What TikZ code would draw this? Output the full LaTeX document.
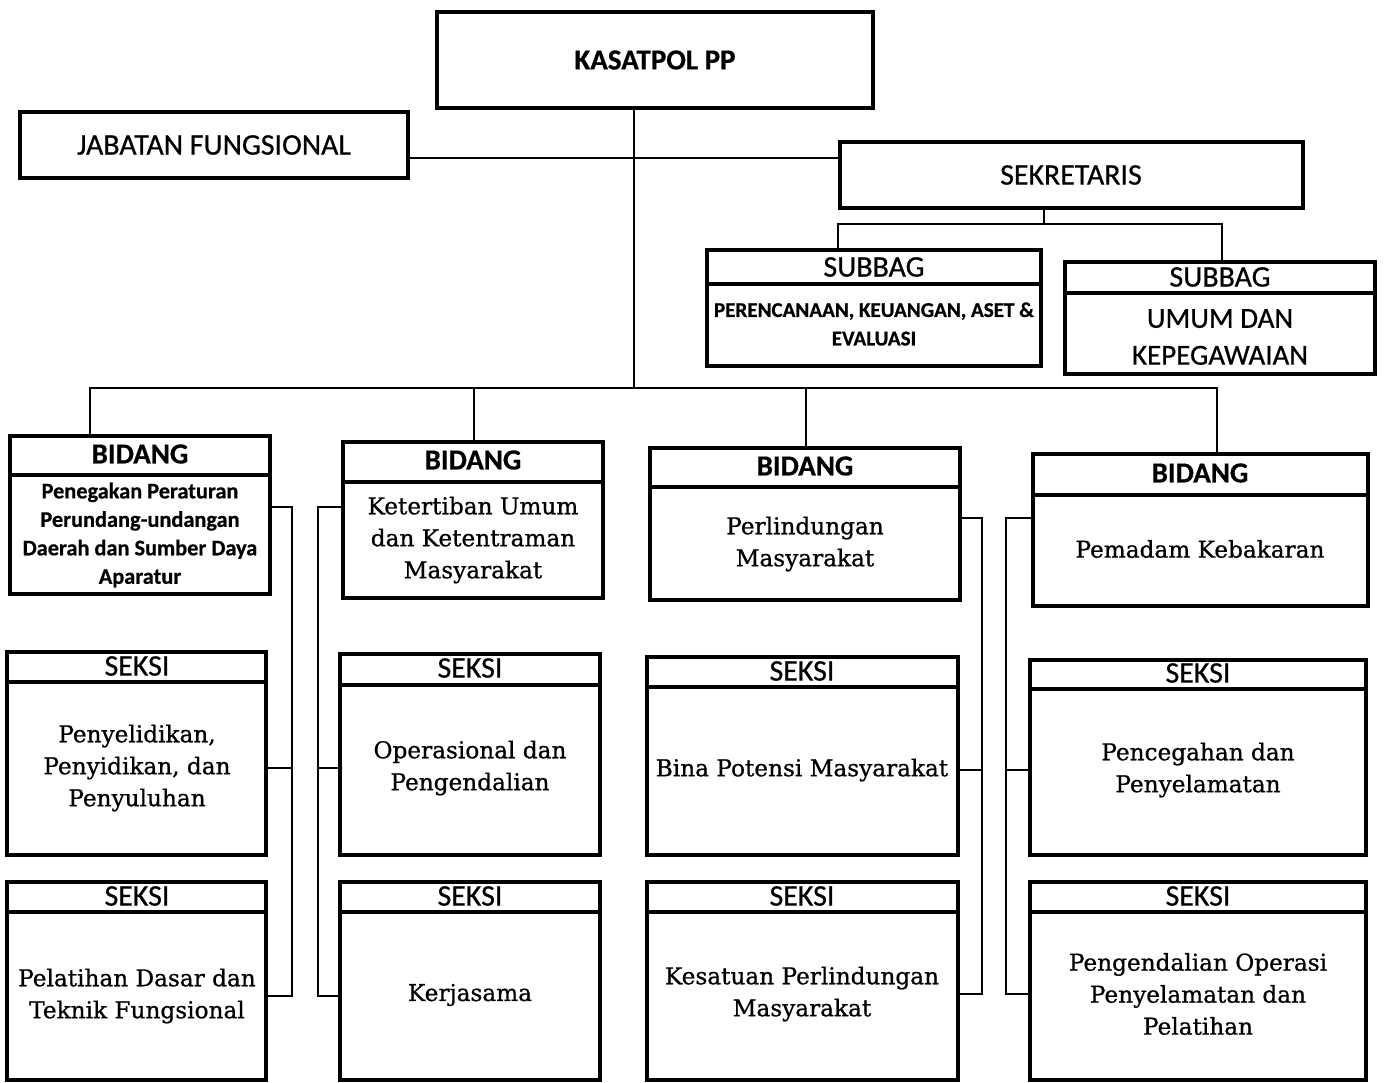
\documentclass[tikz,border=0pt]{standalone}
\usepackage{fontspec}
\setmainfont[FakeBold=0.8]{DejaVu Serif}
\newfontfamily\calfont[FakeBold=0.6]{Carlito}
\usetikzlibrary{fit}
\tikzset{
  box/.style={draw, line width=2.6pt, inner sep=0pt},
  sepline/.style={line width=2.6pt},
  conn/.style={line width=1.1pt, line join=miter},
  hdr/.style={font=\calfont\fontsize{17}{18}\selectfont, inner sep=0pt},
  hdrb/.style={font=\calfont\bfseries\fontsize{16.5}{18}\selectfont, inner sep=0pt},
  cal/.style={font=\calfont\bfseries\fontsize{12}{16.2}\selectfont, align=center, inner sep=0pt},
  calp/.style={font=\calfont\bfseries\fontsize{12.7}{16.2}\selectfont, align=center, inner sep=0pt},
  calb/.style={font=\calfont\fontsize{16.5}{21}\selectfont, align=center, inner sep=0pt},
  body/.style={font=\fontsize{13.2}{18.2}\selectfont, align=center, inner sep=0pt},
}
\begin{document}
\begin{tikzpicture}[x=0.02cm,y=-0.02cm]
\useasboundingbox (0,0) rectangle (1386,1082);

% ---------- top level ----------
\node[box, fit={(437,12) (873,108)}] (kas) {};
\node[hdrb] (kast) at (655,60) {KASATPOL PP};

\node[box, fit={(20,112) (408,178)}] (jab) {};
\node[hdr] (jabt) at (214,145) {JABATAN FUNGSIONAL};

\node[box, fit={(840,142) (1303,208)}] (sek) {};
\node[hdr] (sekt) at (1071,175) {SEKRETARIS};

% ---------- subbag ----------
\node[box, fit={(707,250) (1041,366)}] (sb1) {};
\draw[sepline] (707,284) -- (1041,284);
\node[hdr] (sb1h) at (874,267) {SUBBAG};
\node[cal] (sb1t) at (874,324) {PERENCANAAN, KEUANGAN, ASET \&\\EVALUASI};

\node[box, fit={(1065,262) (1375,374)}] (sb2) {};
\draw[sepline] (1065,293) -- (1375,293);
\node[hdr] (sb2h) at (1220,277) {SUBBAG};
\node[calb] (sb2t) at (1220,337) {UMUM DAN\\KEPEGAWAIAN};

% ---------- bidang ----------
\node[box, fit={(10,436) (270,594)}] (b1) {};
\draw[sepline] (10,475) -- (270,475);
\node[hdrb] (b1h) at (140,454) {BIDANG};
\node[calp] (b1t) at (140,535) {Penegakan Peraturan\\Perundang-undangan\\Daerah dan Sumber Daya\\Aparatur};

\node[box, fit={(343,442) (603,598)}] (b2) {};
\draw[sepline] (343,482) -- (603,482);
\node[hdrb] (b2h) at (473,460) {BIDANG};
\node[body] (b2t) at (473,540) {Ketertiban Umum\\dan Ketentraman\\Masyarakat};

\node[box, fit={(650,448) (960,600)}] (b3) {};
\draw[sepline] (650,487) -- (960,487);
\node[hdrb] (b3h) at (805,466) {BIDANG};
\node[body] (b3t) at (805,544) {Perlindungan\\Masyarakat};

\node[box, fit={(1033,454) (1368,606)}] (b4) {};
\draw[sepline] (1033,495) -- (1368,495);
\node[hdrb] (b4h) at (1200,473) {BIDANG};
\node[body] (b4t) at (1200,549) {Pemadam Kebakaran};

% ---------- seksi ----------
\node[box, fit={(7,652) (266,855)}] (s11) {};
\draw[sepline] (7,682) -- (266,682);
\node[hdr] (s11h) at (137,666) {SEKSI};
\node[body] (s11t) at (137,768) {Penyelidikan,\\Penyidikan, dan\\Penyuluhan};

\node[box, fit={(7,882) (266,1080)}] (s12) {};
\draw[sepline] (7,912) -- (266,912);
\node[hdr] (s12h) at (137,896) {SEKSI};
\node[body] (s12t) at (137,996) {Pelatihan Dasar dan\\Teknik Fungsional};

\node[box, fit={(340,654) (600,855)}] (s21) {};
\draw[sepline] (340,685) -- (600,685);
\node[hdr] (s21h) at (470,668) {SEKSI};
\node[body] (s21t) at (470,768) {Operasional dan\\Pengendalian};

\node[box, fit={(340,882) (600,1080)}] (s22) {};
\draw[sepline] (340,912) -- (600,912);
\node[hdr] (s22h) at (470,896) {SEKSI};
\node[body] (s22t) at (470,995) {Kerjasama};

\node[box, fit={(647,657) (958,855)}] (s31) {};
\draw[sepline] (647,687) -- (958,687);
\node[hdr] (s31h) at (802,671) {SEKSI};
\node[body] (s31t) at (802,770) {Bina Potensi Masyarakat};

\node[box, fit={(647,882) (958,1080)}] (s32) {};
\draw[sepline] (647,912) -- (958,912);
\node[hdr] (s32h) at (802,896) {SEKSI};
\node[body] (s32t) at (802,994) {Kesatuan Perlindungan\\Masyarakat};

\node[box, fit={(1030,660) (1366,855)}] (s41) {};
\draw[sepline] (1030,689) -- (1366,689);
\node[hdr] (s41h) at (1198,673) {SEKSI};
\node[body] (s41t) at (1198,770) {Pencegahan dan\\Penyelamatan};

\node[box, fit={(1030,882) (1366,1080)}] (s42) {};
\draw[sepline] (1030,912) -- (1366,912);
\node[hdr] (s42h) at (1198,896) {SEKSI};
\node[body] (s42t) at (1198,994) {Pengendalian Operasi\\Penyelamatan dan\\Pelatihan};

% ---------- connectors ----------
\coordinate (kv) at (634,388);
\coordinate (d1) at (90,388);
\coordinate (d2) at (474,388);
\coordinate (d3) at (806,388);
\coordinate (d4) at (1217,388);
\draw[conn] (kas.south -| kv) -- (kv);
\draw[conn] (d1 |- b1.north) -- (d1) -- (d4) -- (d4 |- b4.north);
\draw[conn] (d2) -- (d2 |- b2.north);
\draw[conn] (d3) -- (d3 |- b3.north);

\coordinate (jl) at (0,158);
\draw[conn] (jab.east |- jl) -- (sek.west |- jl);

\coordinate (sv) at (1044,224);
\coordinate (sl) at (838,224);
\coordinate (sr) at (1222,224);
\draw[conn] (sek.south -| sv) -- (sv);
\draw[conn] (sl |- sb1.north) -- (sl) -- (sr) -- (sr |- sb2.north);

% column 1 (right side)
\coordinate (c1a) at (292,507);
\coordinate (c1b) at (292,768);
\coordinate (c1c) at (292,996);
\draw[conn] (c1a -| b1.east) -- (c1a) -- (c1c) -- (c1c -| s12.east);
\draw[conn] (c1b) -- (c1b -| s11.east);

% column 2 (left side)
\coordinate (c2a) at (318,507);
\coordinate (c2b) at (318,768);
\coordinate (c2c) at (318,996);
\draw[conn] (c2a -| b2.west) -- (c2a) -- (c2c) -- (c2c -| s22.west);
\draw[conn] (c2b) -- (c2b -| s21.west);

% column 3 (right side)
\coordinate (c3a) at (982,518);
\coordinate (c3b) at (982,770);
\coordinate (c3c) at (982,994);
\draw[conn] (c3a -| b3.east) -- (c3a) -- (c3c) -- (c3c -| s32.east);
\draw[conn] (c3b) -- (c3b -| s31.east);

% column 4 (left side)
\coordinate (c4a) at (1006,518);
\coordinate (c4b) at (1006,770);
\coordinate (c4c) at (1006,994);
\draw[conn] (c4a -| b4.west) -- (c4a) -- (c4c) -- (c4c -| s42.west);
\draw[conn] (c4b) -- (c4b -| s41.west);
\end{tikzpicture}
\end{document}
